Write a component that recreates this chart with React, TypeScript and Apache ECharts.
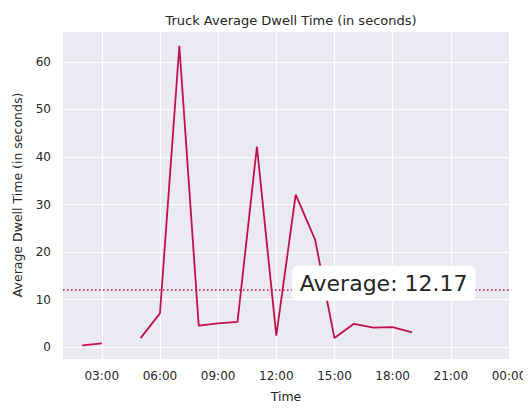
import React, { useEffect, useRef } from "react";
import * as echarts from "echarts";

const hours: string[] = [
  "01:00", "02:00", "03:00", "04:00", "05:00", "06:00", "07:00", "08:00",
  "09:00", "10:00", "11:00", "12:00", "13:00", "14:00", "15:00", "16:00",
  "17:00", "18:00", "19:00", "20:00", "21:00", "22:00", "23:00", "00:00",
];
const dwellSeconds: (number | null)[] = [
  null, 0.35, 0.8, null, 1.9, 7.1, 63.4, 4.5, 5.0, 5.3, 42.2, 2.4,
  32.1, 22.6, 1.9, 4.9, 4.1, 4.2, 3.1, null, null, null, null, null,
];
const averageValue = 12.17;
const labelAnchorHour = "18:00";

const FONT = "DejaVu Sans";
const TXT = "#262626";
const RED = "#C2114A";

export default function App() {
  const ref = useRef<HTMLDivElement>(null);
  useEffect(() => {
    if (!ref.current) return;
    const chart = echarts.init(ref.current, undefined, { renderer: "svg" });
    const isTick = (i: number) => (i + 1) % 3 === 0;
    chart.setOption({
      animation: false,
      backgroundColor: "#ffffff",
      textStyle: { fontFamily: FONT },
      title: {
        text: "Truck Average Dwell Time (in seconds)",
        left: 286,
        top: 9,
        textAlign: "center",
        textStyle: { fontFamily: FONT, fontSize: 13, fontWeight: "normal", color: TXT },
      },
      grid: {
        left: 63,
        right: 22,
        top: 31,
        bottom: 46,
        show: true,
        backgroundColor: "#EAEAF2",
        borderWidth: 0,
      },
      xAxis: {
        type: "category",
        data: hours,
        boundaryGap: false,
        name: "Time",
        nameLocation: "middle",
        nameGap: 31,
        nameTextStyle: { fontFamily: FONT, fontSize: 12.5, color: TXT },
        axisLine: { show: false },
        axisTick: { show: false },
        axisLabel: {
          interval: (i: number) => isTick(i),
          fontFamily: FONT,
          fontSize: 12,
          color: TXT,
          margin: 11,
        },
        splitLine: {
          show: true,
          interval: (i: number) => isTick(i),
          lineStyle: { color: "#ffffff", width: 1.2 },
        },
      },
      yAxis: {
        type: "value",
        min: -2.5,
        max: 66.5,
        splitNumber: 7,
        name: "Average Dwell Time (in seconds)",
        nameLocation: "middle",
        nameGap: 39,
        nameTextStyle: { fontFamily: FONT, fontSize: 12.5, color: TXT },
        axisLine: { show: false },
        axisTick: { show: false },
        axisLabel: {
          showMinLabel: false,
          showMaxLabel: false,
          fontFamily: FONT,
          fontSize: 12,
          color: TXT,
          margin: 12,
        },
        splitLine: { show: true, lineStyle: { color: "#ffffff", width: 1.2 } },
      },
      series: [
        {
          type: "line",
          data: dwellSeconds,
          connectNulls: false,
          showSymbol: false,
          symbol: "none",
          lineStyle: { color: RED, width: 1.8 },
          itemStyle: { color: RED },
          markLine: {
            silent: true,
            symbol: "none",
            label: { show: false },
            lineStyle: { color: RED, width: 1.5, type: [1.5, 2.5] },
            data: [{ yAxis: averageValue }],
          },
          markPoint: {
            silent: true,
            symbol: "rect",
            symbolSize: 0,
            data: [{ coord: [labelAnchorHour, averageValue] }],
            label: {
              show: true,
              position: "inside",
              offset: [-9, -6],
              formatter: "Average: " + averageValue.toFixed(2),
              fontFamily: FONT,
              fontSize: 22,
              color: TXT,
              backgroundColor: "#ffffff",
              borderRadius: 6,
              padding: [7, 8, 6, 8],
            },
          },
        },
      ],
    });
    return () => chart.dispose();
  }, []);
  return <div ref={ref} style={{ width: 531, height: 408, marginTop: -8, marginLeft: -8 }} />;
}
